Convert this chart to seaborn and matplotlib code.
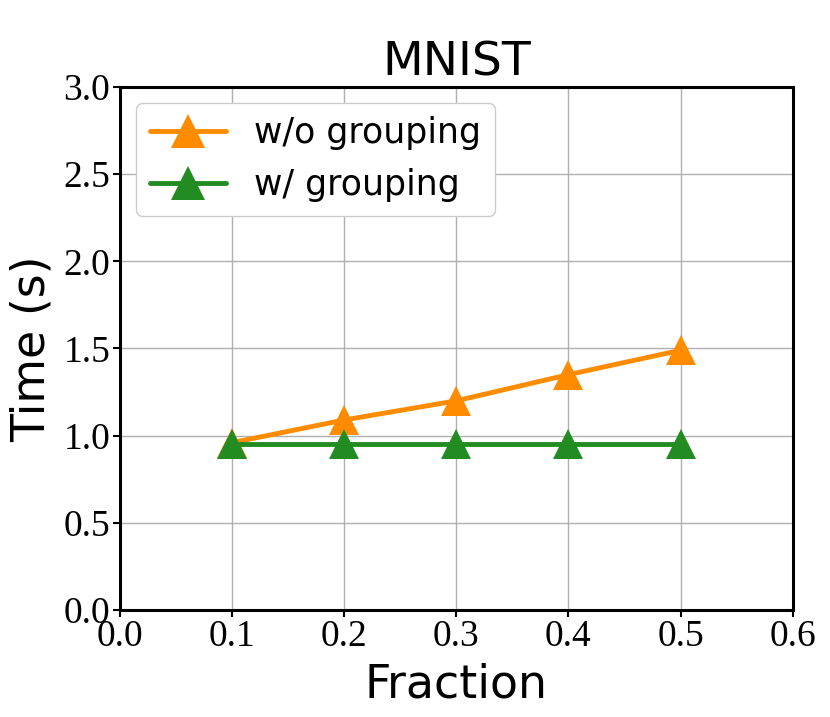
import pandas as pd
import matplotlib
matplotlib.use('Agg')
import matplotlib.pyplot as plt
import seaborn as sns

fraction = [0.1, 0.2, 0.3, 0.4, 0.5]
wo_grouping = [0.96, 1.09, 1.20, 1.35, 1.49]
w_grouping = [0.95, 0.95, 0.95, 0.95, 0.95]
series_names = ['w/o grouping', 'w/ grouping']
colors = ['darkorange', 'forestgreen']

df = pd.DataFrame({
    'Fraction': fraction * 2,
    'Time': wo_grouping + w_grouping,
    'Method': [series_names[0]] * 5 + [series_names[1]] * 5,
})

sns.set_style('whitegrid')
plt.rcParams['text.color'] = 'black'
plt.rcParams['axes.labelcolor'] = 'black'
plt.rcParams['xtick.color'] = 'black'
plt.rcParams['ytick.color'] = 'black'

fig = plt.figure(figsize=(8.3, 7.17), dpi=100)
ax = fig.add_axes([0.1446, 0.1492, 0.8104, 0.7295])

sns.lineplot(data=df, x='Fraction', y='Time', hue='Method', style='Method',
             palette=colors, markers=['^', '^'], dashes=False,
             markersize=22, linewidth=3.5, markeredgewidth=0, ax=ax)

ax.set_xlim(0, 0.6)
ax.set_ylim(0, 3.0)
ax.set_xticks([0.0, 0.1, 0.2, 0.3, 0.4, 0.5, 0.6])
ax.set_yticks([0.0, 0.5, 1.0, 1.5, 2.0, 2.5, 3.0])
ax.grid(True, color='#b0b0b0', linewidth=1)
for lbl in ax.get_xticklabels() + ax.get_yticklabels():
    lbl.set_family('Liberation Serif')
    lbl.set_fontsize(27)
ax.tick_params(axis='both', which='major', length=5, width=1.5, color='black',
               bottom=True, left=True, direction='out', pad=2)
for s in ax.spines.values():
    s.set_color('black')
    s.set_linewidth(2.2)

ax.set_title('MNIST', fontsize=34, family='DejaVu Sans', pad=8)
ax.set_xlabel('Fraction', fontsize=33, family='DejaVu Sans', labelpad=6)
ax.set_ylabel('Time (s)', fontsize=33, family='DejaVu Sans', labelpad=6)

leg = ax.legend(loc='upper left', fontsize=25, handlelength=2.2, framealpha=1,
                borderaxespad=0.45)
for h in leg.legend_handles:
    h.set_markersize(25)
    h.set_linewidth(3.5)

fig.savefig('out.png', dpi=100)
